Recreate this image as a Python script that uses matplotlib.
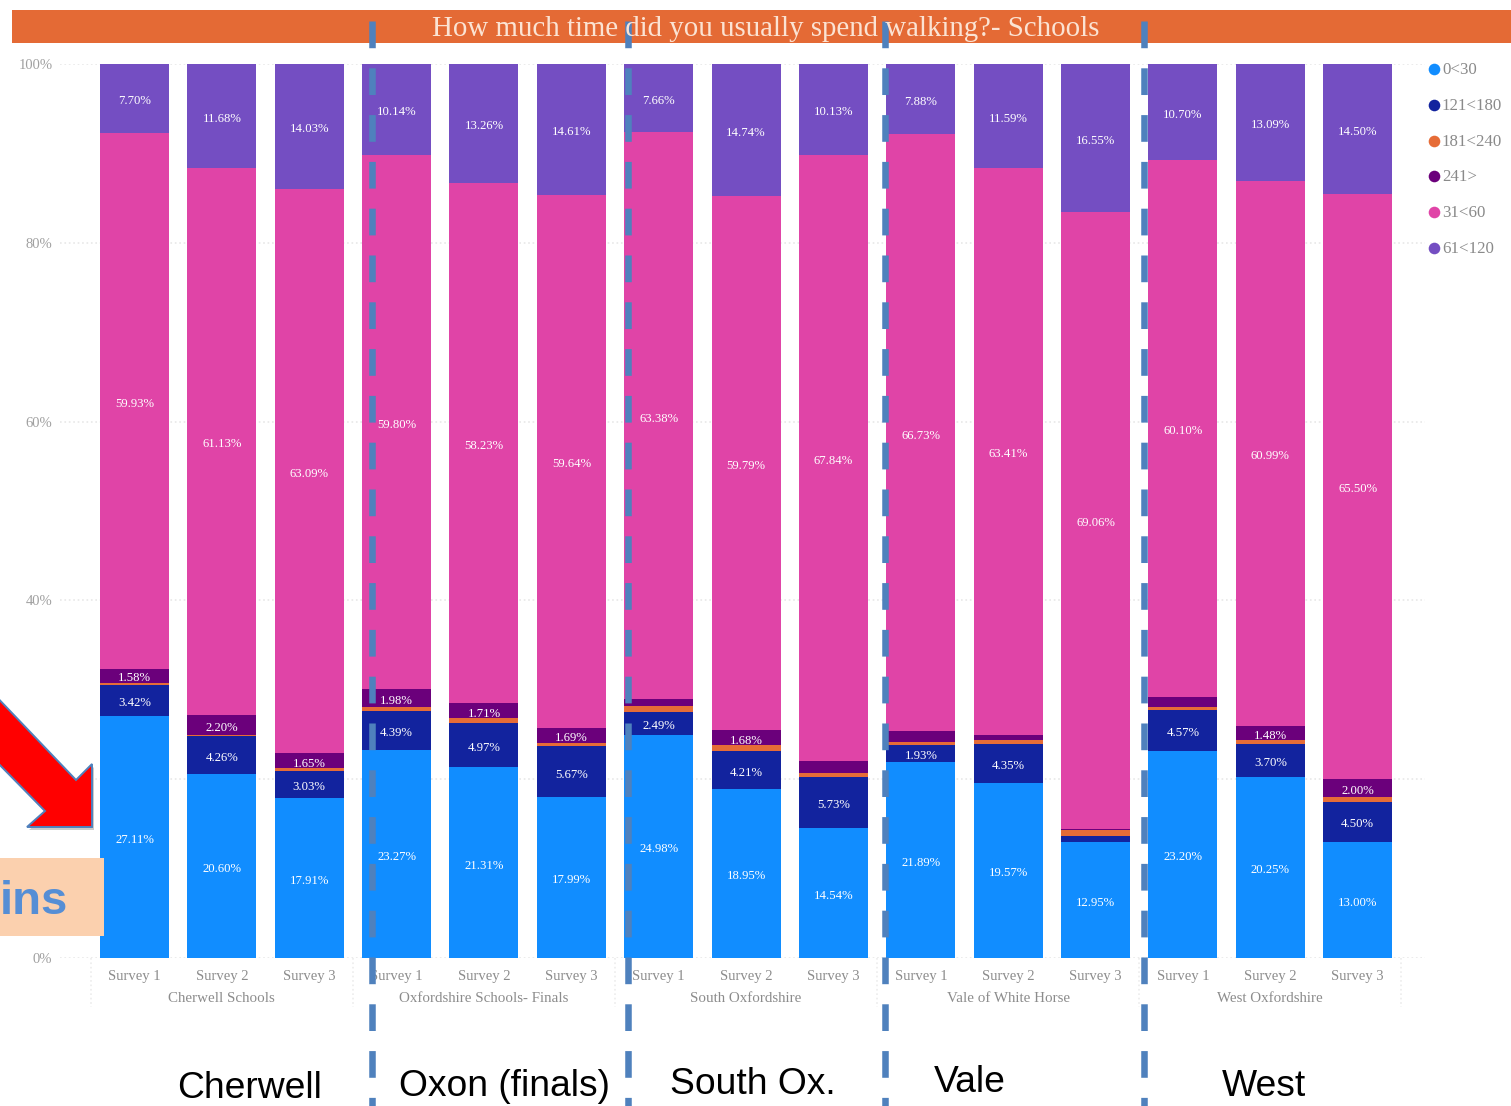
import numpy as np
import matplotlib
matplotlib.use("Agg")
import matplotlib.pyplot as plt
from matplotlib.patches import Polygon, Rectangle
from matplotlib.transforms import blended_transform_factory

W, H = 1511, 1106

# Survey results per area, three surveys each
groups = [
    "Cherwell Schools",
    "Oxfordshire Schools- Finals",
    "South Oxfordshire",
    "Vale of White Horse",
    "West Oxfordshire",
]
surveys = ["Survey 1", "Survey 2", "Survey 3"]
bands = ["0<30", "121<180", "181<240", "241>", "31<60", "61<120"]
colors = ["#118DFF", "#12239E", "#E66C37", "#6B007B", "#E044A7", "#744EC2"]

v_0_30 = [27.11, 20.60, 17.91, 23.27, 21.31, 17.99, 24.98, 18.95, 14.54, 21.89, 19.57, 12.95, 23.20, 20.25, 13.00]
v_121_180 = [3.42, 4.26, 3.03, 4.39, 4.97, 5.67, 2.49, 4.21, 5.73, 1.93, 4.35, 0.75, 4.57, 3.70, 4.50]
v_181_240 = [0.26, 0.13, 0.29, 0.42, 0.52, 0.40, 0.70, 0.63, 0.40, 0.35, 0.50, 0.60, 0.33, 0.49, 0.50]
v_241 = [1.58, 2.20, 1.65, 1.98, 1.71, 1.69, 0.79, 1.68, 1.36, 1.22, 0.58, 0.09, 1.10, 1.48, 2.00]
v_31_60 = [59.93, 61.13, 63.09, 59.80, 58.23, 59.64, 63.38, 59.79, 67.84, 66.73, 63.41, 69.06, 60.10, 60.99, 65.50]
v_61_120 = [7.70, 11.68, 14.03, 10.14, 13.26, 14.61, 7.66, 14.74, 10.13, 7.88, 11.59, 16.55, 10.70, 13.09, 14.50]
series = [v_0_30, v_121_180, v_181_240, v_241, v_31_60, v_61_120]

area_names = ["Cherwell", "Oxon (finals)", "South Ox.", "Vale", "West"]

serif = "Liberation Serif"
grey = "#8c8c8c"

fig = plt.figure(figsize=(W / 100, H / 100), dpi=100, facecolor="white")

# main stacked chart, placed by pixel box
left, right, top, bottom = 60, 1425, 64, 958
ax = fig.add_axes([left / W, 1 - bottom / H, (right - left) / W, (bottom - top) / H])
step = 87.37
ax.set_xlim((left - 134.5) / step, (right - 134.5) / step)
ax.set_ylim(0, 100)

x = np.arange(len(v_0_30))
base = np.zeros(len(x))
for name, vals, col in zip(bands, series, colors):
    vals = np.array(vals)
    bars = ax.bar(x, vals, 0.79, bottom=base, color=col, label=name, zorder=3)
    # thin slices carry no label
    labels = [f"{v:.2f}%" if v >= 1.4 else "" for v in vals]
    texts = ax.bar_label(bars, labels=labels, label_type="center", color="white",
                         fontsize=9.2, family=serif, zorder=4)
    for t in texts:
        t.xyann = (0, -2)
    base += vals

ax.set_yticks([0, 20, 40, 60, 80, 100])
ax.set_yticklabels(["0%", "20%", "40%", "60%", "80%", "100%"], family=serif,
                   fontsize=10.5, color="#a0a0a0")
ax.set_xticks(x)
ax.set_xticklabels(surveys * len(groups), family=serif, fontsize=10.5, color=grey)
ax.tick_params(length=0)
ax.tick_params(axis="x", pad=8.8)
ax.tick_params(axis="y", pad=5.5)
for t in ax.get_yticklabels():
    t.set_y(t.get_position()[1])
ax.grid(axis="y", color="#e8e8e8", linestyle=":", linewidth=1.2, zorder=0)
for s in ax.spines.values():
    s.set_visible(False)

# area names and dotted separators under the surveys
trans = blended_transform_factory(ax.transData, ax.transAxes)
for i, g in enumerate(groups):
    ax.text(3 * i + 1, -0.0455, g, transform=trans, ha="center", va="center",
            family=serif, fontsize=10.8, color=grey)
for b in np.arange(len(groups) + 1) * 3 - 0.5:
    ax.plot([b, b], [0, -0.055], transform=trans, color="#ececec", linestyle=":",
            linewidth=1.2, clip_on=False)

# slide annotations on top, in pixel coordinates
over = fig.add_axes([0, 0, 1, 1], zorder=5)
over.set_xlim(0, W)
over.set_ylim(H, 0)
over.axis("off")

over.add_patch(Rectangle((12, 10), W - 12, 33, color="#E46A35", lw=0))
over.text(766, 29, "How much time did you usually spend walking?- Schools", ha="center",
          va="center", family=serif, fontsize=20.8, color="#FBE3D3")

# legend column
for i, (name, col) in enumerate(zip(bands, colors)):
    y = 69 + i * 35.8
    over.scatter([1434], [y], s=70, color=col, lw=0)
    over.text(1442, y + 1, name, va="center", family=serif, fontsize=12.2, color="#8a8a8a")

# dashed dividers between areas
for xd in [372, 628, 885, 1144]:
    over.plot([xd, xd], [20.7, H], color="#4F81BD", linewidth=4.7,
              dashes=(26.6 / 6.5, 20 / 6.5), dash_capstyle="butt")

# red arrow and the cropped call-out box
arrow = [(-10, 690), (76, 780), (92, 764), (92, 827), (27, 827), (45, 811), (-10, 755)]
shadow = [(px + 2, py + 3) for px, py in arrow]
over.add_patch(Polygon(shadow, closed=True, color="#000000", alpha=0.2, lw=0))
over.add_patch(Polygon(arrow, closed=True, facecolor="#FF0000", edgecolor="#4F81BD", linewidth=1.4))
over.add_patch(Rectangle((0, 858), 104, 78, color="#FBD0AE", lw=0))
over.text(0, 914, "ins", family="Liberation Sans", fontweight="bold", fontsize=34,
          color="#558ED5", va="baseline")

# plain area captions at the bottom
for name, cx, cy in zip(area_names, [249.5, 504.5, 753, 970, 1263.5], [1089, 1087, 1084, 1083, 1087]):
    over.text(cx, cy, name, ha="center", va="center", family="Liberation Sans",
              fontsize=26.8, color="black")

fig.savefig("out.png", dpi=100)
